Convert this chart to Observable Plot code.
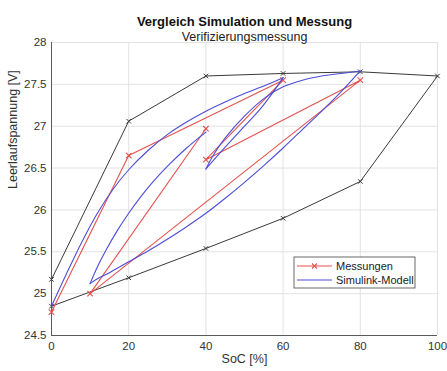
<!DOCTYPE html>
<html>
<head>
<meta charset="utf-8">
<script src="https://cdn.jsdelivr.net/npm/d3@7"></script>
<script src="https://cdn.jsdelivr.net/npm/@observablehq/plot@0.6"></script>
<style>
  html, body { margin: 0; padding: 0; background: #fff; }
  #chart { width: 447px; height: 371px; }
</style>
</head>
<body>
<div id="chart"></div>
<script>
// ---- Texts ----
const titleText = "Vergleich Simulation und Messung";
const subtitleText = "Verifizierungsmessung";
const xLabel = "SoC [%]";
const yLabel = "Leerlaufspannung [V]";
const legendLabels = ["Messungen", "Simulink-Modell"];

// ---- Ticks ----
const xTicks = [0, 20, 40, 60, 80, 100];
const xTickLabels = ["0", "20", "40", "60", "80", "100"];
const yTicks = [24.5, 25, 25.5, 26, 26.5, 27, 27.5, 28];
const yTickLabels = ["24.5", "25", "25.5", "26", "26.5", "27", "27.5", "28"];

// ---- Envelope (black) ----
const envSoc = [0, 20, 40, 60, 80, 100, 80, 60, 40, 20, 0];
const envV   = [25.17, 27.06, 27.6, 27.63, 27.65, 27.6, 26.34, 25.9, 25.54, 25.19, 24.85];

// ---- Messungen (red) ----
const messSoc = [0, 20, 60, 40, 80, 10, 40];
const messV   = [24.78, 26.65, 27.55, 26.6, 27.55, 25.0, 26.97];

// ---- Simulink-Modell (blue), one phase per segment ----
const simSeg = [
  1, 1, 1, 1, 1, 1, 1, 1, 1, 1, 1, 1, 1, 1,
  2, 2, 2, 2, 2, 2,
  3, 3, 3, 3, 3, 3, 3, 3, 3, 3,
  4, 4, 4, 4, 4, 4, 4, 4, 4, 4, 4, 4, 4, 4, 4, 4,
  5, 5, 5, 5, 5, 5, 5, 5, 5, 5
];
const simSoc = [
  0, 4, 8, 12, 16, 20, 25, 30, 35, 40, 45, 50, 55, 60,
  60, 57, 54, 50, 45, 40,
  40, 42, 45, 50, 55, 60, 65, 70, 75, 80,
  80, 75, 70, 65, 60, 55, 50, 45, 40, 35, 30, 25, 20, 15, 12, 10,
  10, 12, 14, 17, 20, 23, 26, 30, 35, 40
];
const simV = [
  24.85, 25.25, 25.63, 25.97, 26.25, 26.48, 26.71, 26.9, 27.05, 27.18, 27.29, 27.39, 27.48, 27.58,
  27.58, 27.38, 27.2, 27.0, 26.75, 26.49,
  26.49, 26.66, 26.86, 27.12, 27.33, 27.47, 27.55, 27.6, 27.63, 27.66,
  27.66, 27.41, 27.18, 26.96, 26.74, 26.53, 26.33, 26.14, 25.96, 25.8, 25.65, 25.51, 25.38, 25.25, 25.18, 25.12,
  25.12, 25.33, 25.51, 25.75, 25.96, 26.15, 26.32, 26.52, 26.74, 26.93
];

// ---- Colours ----
const colEnv = "#3a3a3a";
const colMess = "#e4524e";
const colSim = "#4d4dd8";

const env = envSoc.map((s, i) => ({soc: s, v: envV[i]}));
const mess = messSoc.map((s, i) => ({soc: s, v: messV[i]}));
const sim = simSoc.map((s, i) => ({soc: s, v: simV[i], seg: simSeg[i]}));

const xFmt = new Map(xTicks.map((t, i) => [t, xTickLabels[i]]));
const yFmt = new Map(yTicks.map((t, i) => [t, yTickLabels[i]]));

const font = "'Liberation Sans', Arial, Helvetica, sans-serif";

const chart = Plot.plot({
  width: 447,
  height: 371,
  marginLeft: 51,
  marginRight: 10,
  marginTop: 42,
  marginBottom: 36,
  x: {domain: [0, 100]},
  y: {domain: [24.5, 28]},
  style: {fontFamily: font, fontSize: "11px", color: "#333", background: "#fff", overflow: "visible"},
  marks: [
    Plot.gridX(xTicks, {stroke: "#e2e2e2", strokeOpacity: 1}),
    Plot.gridY(yTicks, {stroke: "#e2e2e2", strokeOpacity: 1}),
    Plot.ruleX([0], {stroke: "#5a5a5a"}),
    Plot.ruleY([24.5], {stroke: "#5a5a5a"}),
    Plot.axisX(xTicks, {tickSize: 0, tickPadding: 6, tickFormat: d => xFmt.get(d), label: null, fontSize: 11.5, fill: "#333"}),
    Plot.axisY(yTicks, {tickSize: 0, tickPadding: 5, tickFormat: d => yFmt.get(d), label: null, fontSize: 11.5, fill: "#333"}),
    Plot.line(env, {x: "soc", y: "v", stroke: colEnv, strokeWidth: 1}),
    Plot.dot(env, {x: "soc", y: "v", symbol: "times", r: 2.2, stroke: colEnv, strokeWidth: 1}),
    Plot.line(mess, {x: "soc", y: "v", stroke: colMess, strokeWidth: 1.1}),
    Plot.dot(mess, {x: "soc", y: "v", symbol: "times", r: 2.6, stroke: colMess, strokeWidth: 1.1}),
    Plot.line(sim, {x: "soc", y: "v", z: "seg", curve: "catmull-rom", stroke: colSim, strokeWidth: 1.1}),
    Plot.text([titleText], {frameAnchor: "top", dy: -26, text: d => d, fontWeight: "bold", fontSize: 13, fill: "#111"}),
    Plot.text([subtitleText], {frameAnchor: "top", dy: -10, text: d => d, fontSize: 12.5, fill: "#222"}),
    Plot.text([xLabel], {frameAnchor: "bottom", dy: 27, text: d => d, fontSize: 12.5, fill: "#333"}),
    Plot.text([yLabel], {frameAnchor: "left", dx: -39, rotate: -90, text: d => d, fontSize: 12.5, fill: "#333"})
  ]
});

document.getElementById("chart").appendChild(chart);

// ---- Legend (inside the plot area) ----
const svg = d3.select(chart);
const lg = svg.append("g").attr("transform", "translate(294,257)");
lg.append("rect").attr("width", 121).attr("height", 31).attr("fill", "#fff").attr("stroke", "#444").attr("stroke-width", 0.8);
const legendColors = [colMess, colSim];
legendLabels.forEach((lab, i) => {
  const yy = 9 + i * 14;
  lg.append("line").attr("x1", 3).attr("x2", 38).attr("y1", yy).attr("y2", yy)
    .attr("stroke", legendColors[i]).attr("stroke-width", 1.1);
  if (i === 0) {
    lg.append("path").attr("transform", `translate(20.5,${yy})`)
      .attr("d", "M-2.5,-2.5L2.5,2.5M-2.5,2.5L2.5,-2.5")
      .attr("stroke", legendColors[i]).attr("stroke-width", 1.1).attr("fill", "none");
  }
  lg.append("text").attr("x", 42).attr("y", yy).attr("dy", "0.35em")
    .attr("text-anchor", "start")
    .attr("font-family", font).attr("font-size", 11).attr("fill", "#222").text(lab);
});
</script>
</body>
</html>
